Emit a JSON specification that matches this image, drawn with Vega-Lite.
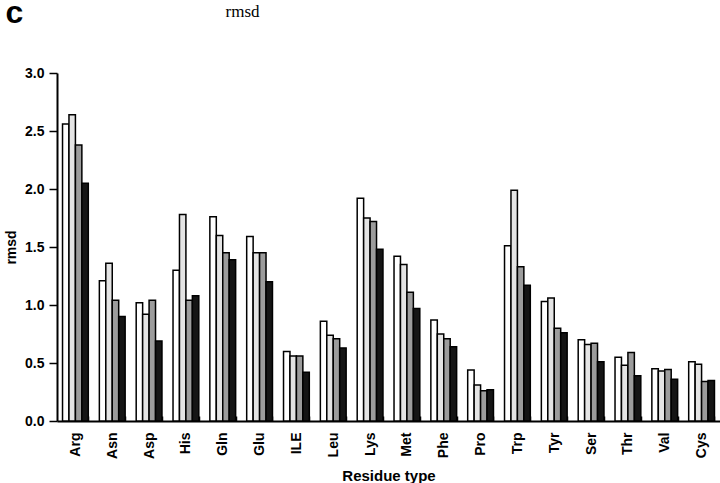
{
  "$schema": "https://vega.github.io/schema/vega-lite/v6.json",
  "width": 663,
  "height": 348,
  "autosize": {"type": "none"},
  "padding": {"left": 57, "top": 73, "right": 0, "bottom": 62},
  "background": "white",
  "config": {
    "view": {"stroke": null},
    "axis": {
      "labelFont": "Liberation Sans",
      "titleFont": "Liberation Sans",
      "labelColor": "#000000",
      "titleColor": "#000000",
      "domainColor": "#000000",
      "tickColor": "#000000",
      "grid": false
    }
  },
  "data": {
    "values": [
      {"residue": "Arg", "series": "s1", "rmsd": 2.56},
      {"residue": "Arg", "series": "s2", "rmsd": 2.64},
      {"residue": "Arg", "series": "s3", "rmsd": 2.38},
      {"residue": "Arg", "series": "s4", "rmsd": 2.05},
      {"residue": "Asn", "series": "s1", "rmsd": 1.21},
      {"residue": "Asn", "series": "s2", "rmsd": 1.36},
      {"residue": "Asn", "series": "s3", "rmsd": 1.04},
      {"residue": "Asn", "series": "s4", "rmsd": 0.9},
      {"residue": "Asp", "series": "s1", "rmsd": 1.02},
      {"residue": "Asp", "series": "s2", "rmsd": 0.92},
      {"residue": "Asp", "series": "s3", "rmsd": 1.04},
      {"residue": "Asp", "series": "s4", "rmsd": 0.69},
      {"residue": "His", "series": "s1", "rmsd": 1.3},
      {"residue": "His", "series": "s2", "rmsd": 1.78},
      {"residue": "His", "series": "s3", "rmsd": 1.04},
      {"residue": "His", "series": "s4", "rmsd": 1.08},
      {"residue": "Gln", "series": "s1", "rmsd": 1.76},
      {"residue": "Gln", "series": "s2", "rmsd": 1.6},
      {"residue": "Gln", "series": "s3", "rmsd": 1.45},
      {"residue": "Gln", "series": "s4", "rmsd": 1.39},
      {"residue": "Glu", "series": "s1", "rmsd": 1.59},
      {"residue": "Glu", "series": "s2", "rmsd": 1.45},
      {"residue": "Glu", "series": "s3", "rmsd": 1.45},
      {"residue": "Glu", "series": "s4", "rmsd": 1.2},
      {"residue": "ILE", "series": "s1", "rmsd": 0.6},
      {"residue": "ILE", "series": "s2", "rmsd": 0.56},
      {"residue": "ILE", "series": "s3", "rmsd": 0.56},
      {"residue": "ILE", "series": "s4", "rmsd": 0.42},
      {"residue": "Leu", "series": "s1", "rmsd": 0.86},
      {"residue": "Leu", "series": "s2", "rmsd": 0.74},
      {"residue": "Leu", "series": "s3", "rmsd": 0.71},
      {"residue": "Leu", "series": "s4", "rmsd": 0.63},
      {"residue": "Lys", "series": "s1", "rmsd": 1.92},
      {"residue": "Lys", "series": "s2", "rmsd": 1.75},
      {"residue": "Lys", "series": "s3", "rmsd": 1.72},
      {"residue": "Lys", "series": "s4", "rmsd": 1.48},
      {"residue": "Met", "series": "s1", "rmsd": 1.42},
      {"residue": "Met", "series": "s2", "rmsd": 1.35},
      {"residue": "Met", "series": "s3", "rmsd": 1.11},
      {"residue": "Met", "series": "s4", "rmsd": 0.97},
      {"residue": "Phe", "series": "s1", "rmsd": 0.87},
      {"residue": "Phe", "series": "s2", "rmsd": 0.75},
      {"residue": "Phe", "series": "s3", "rmsd": 0.71},
      {"residue": "Phe", "series": "s4", "rmsd": 0.64},
      {"residue": "Pro", "series": "s1", "rmsd": 0.44},
      {"residue": "Pro", "series": "s2", "rmsd": 0.31},
      {"residue": "Pro", "series": "s3", "rmsd": 0.26},
      {"residue": "Pro", "series": "s4", "rmsd": 0.27},
      {"residue": "Trp", "series": "s1", "rmsd": 1.51},
      {"residue": "Trp", "series": "s2", "rmsd": 1.99},
      {"residue": "Trp", "series": "s3", "rmsd": 1.33},
      {"residue": "Trp", "series": "s4", "rmsd": 1.17},
      {"residue": "Tyr", "series": "s1", "rmsd": 1.03},
      {"residue": "Tyr", "series": "s2", "rmsd": 1.06},
      {"residue": "Tyr", "series": "s3", "rmsd": 0.8},
      {"residue": "Tyr", "series": "s4", "rmsd": 0.76},
      {"residue": "Ser", "series": "s1", "rmsd": 0.7},
      {"residue": "Ser", "series": "s2", "rmsd": 0.66},
      {"residue": "Ser", "series": "s3", "rmsd": 0.67},
      {"residue": "Ser", "series": "s4", "rmsd": 0.51},
      {"residue": "Thr", "series": "s1", "rmsd": 0.55},
      {"residue": "Thr", "series": "s2", "rmsd": 0.48},
      {"residue": "Thr", "series": "s3", "rmsd": 0.59},
      {"residue": "Thr", "series": "s4", "rmsd": 0.39},
      {"residue": "Val", "series": "s1", "rmsd": 0.45},
      {"residue": "Val", "series": "s2", "rmsd": 0.43},
      {"residue": "Val", "series": "s3", "rmsd": 0.445},
      {"residue": "Val", "series": "s4", "rmsd": 0.36},
      {"residue": "Cys", "series": "s1", "rmsd": 0.51},
      {"residue": "Cys", "series": "s2", "rmsd": 0.49},
      {"residue": "Cys", "series": "s3", "rmsd": 0.34},
      {"residue": "Cys", "series": "s4", "rmsd": 0.35}
    ]
  },
  "layer": [
    {
      "mark": {"type": "bar", "stroke": "#000000", "strokeWidth": 1.5},
      "encoding": {
        "x": {
          "field": "residue",
          "type": "nominal",
          "sort": null,
          "scale": {"paddingInner": 0.3, "paddingOuter": 0.15},
          "axis": {
            "title": "Residue type",
            "titleFontSize": 15,
            "titleFontWeight": "bold",
            "titlePadding": 10,
            "labelAngle": -90,
            "labelFontSize": 14,
            "labelFontWeight": "bold",
            "labelAlign": "right",
            "labelBaseline": "middle",
            "labelPadding": 16,
            "tickBand": "extent",
            "tickSize": -5,
            "tickWidth": 1.5,
            "domainWidth": 2
          }
        },
        "xOffset": {"field": "series", "type": "nominal"},
        "y": {
          "field": "rmsd",
          "type": "quantitative",
          "scale": {"domain": [0, 3]},
          "axis": {
            "title": "rmsd",
            "titleFontSize": 14,
            "titleFontWeight": "bold",
            "titlePadding": 6,
            "values": [0, 0.5, 1, 1.5, 2, 2.5, 3],
            "format": ".1f",
            "labelFontSize": 14,
            "labelFontWeight": "bold",
            "labelPadding": 5,
            "tickSize": 8,
            "tickWidth": 1.5,
            "domainWidth": 2
          }
        },
        "fill": {
          "field": "series",
          "type": "nominal",
          "scale": {"domain": ["s1", "s2", "s3", "s4"], "range": ["#ffffff", "#e4e4e4", "#9c9c9c", "#151515"]},
          "legend": null
        }
      }
    },
    {
      "mark": {"type": "point", "opacity": 0},
      "encoding": {
        "x": {
          "field": "residue",
          "type": "nominal",
          "sort": null,
          "axis": {
            "orient": "top",
            "title": "rmsd",
            "labels": false,
            "ticks": false,
            "domain": false,
            "titleFont": "Liberation Serif",
            "titleFontWeight": "normal",
            "titleFontSize": 17,
            "titleX": 185,
            "titleY": -57,
            "titleAlign": "center",
            "titleBaseline": "alphabetic",
            "titleAngle": 0
          }
        },
        "y": {
          "field": "rmsd",
          "type": "quantitative",
          "axis": {
            "orient": "right",
            "title": "c",
            "labels": false,
            "ticks": false,
            "domain": false,
            "titleFont": "Liberation Sans",
            "titleFontWeight": "bold",
            "titleFontSize": 32,
            "titleX": -715,
            "titleY": -51,
            "titleAlign": "left",
            "titleBaseline": "alphabetic",
            "titleAngle": 0
          }
        }
      }
    }
  ],
  "resolve": {"axis": {"x": "independent", "y": "independent"}}
}
